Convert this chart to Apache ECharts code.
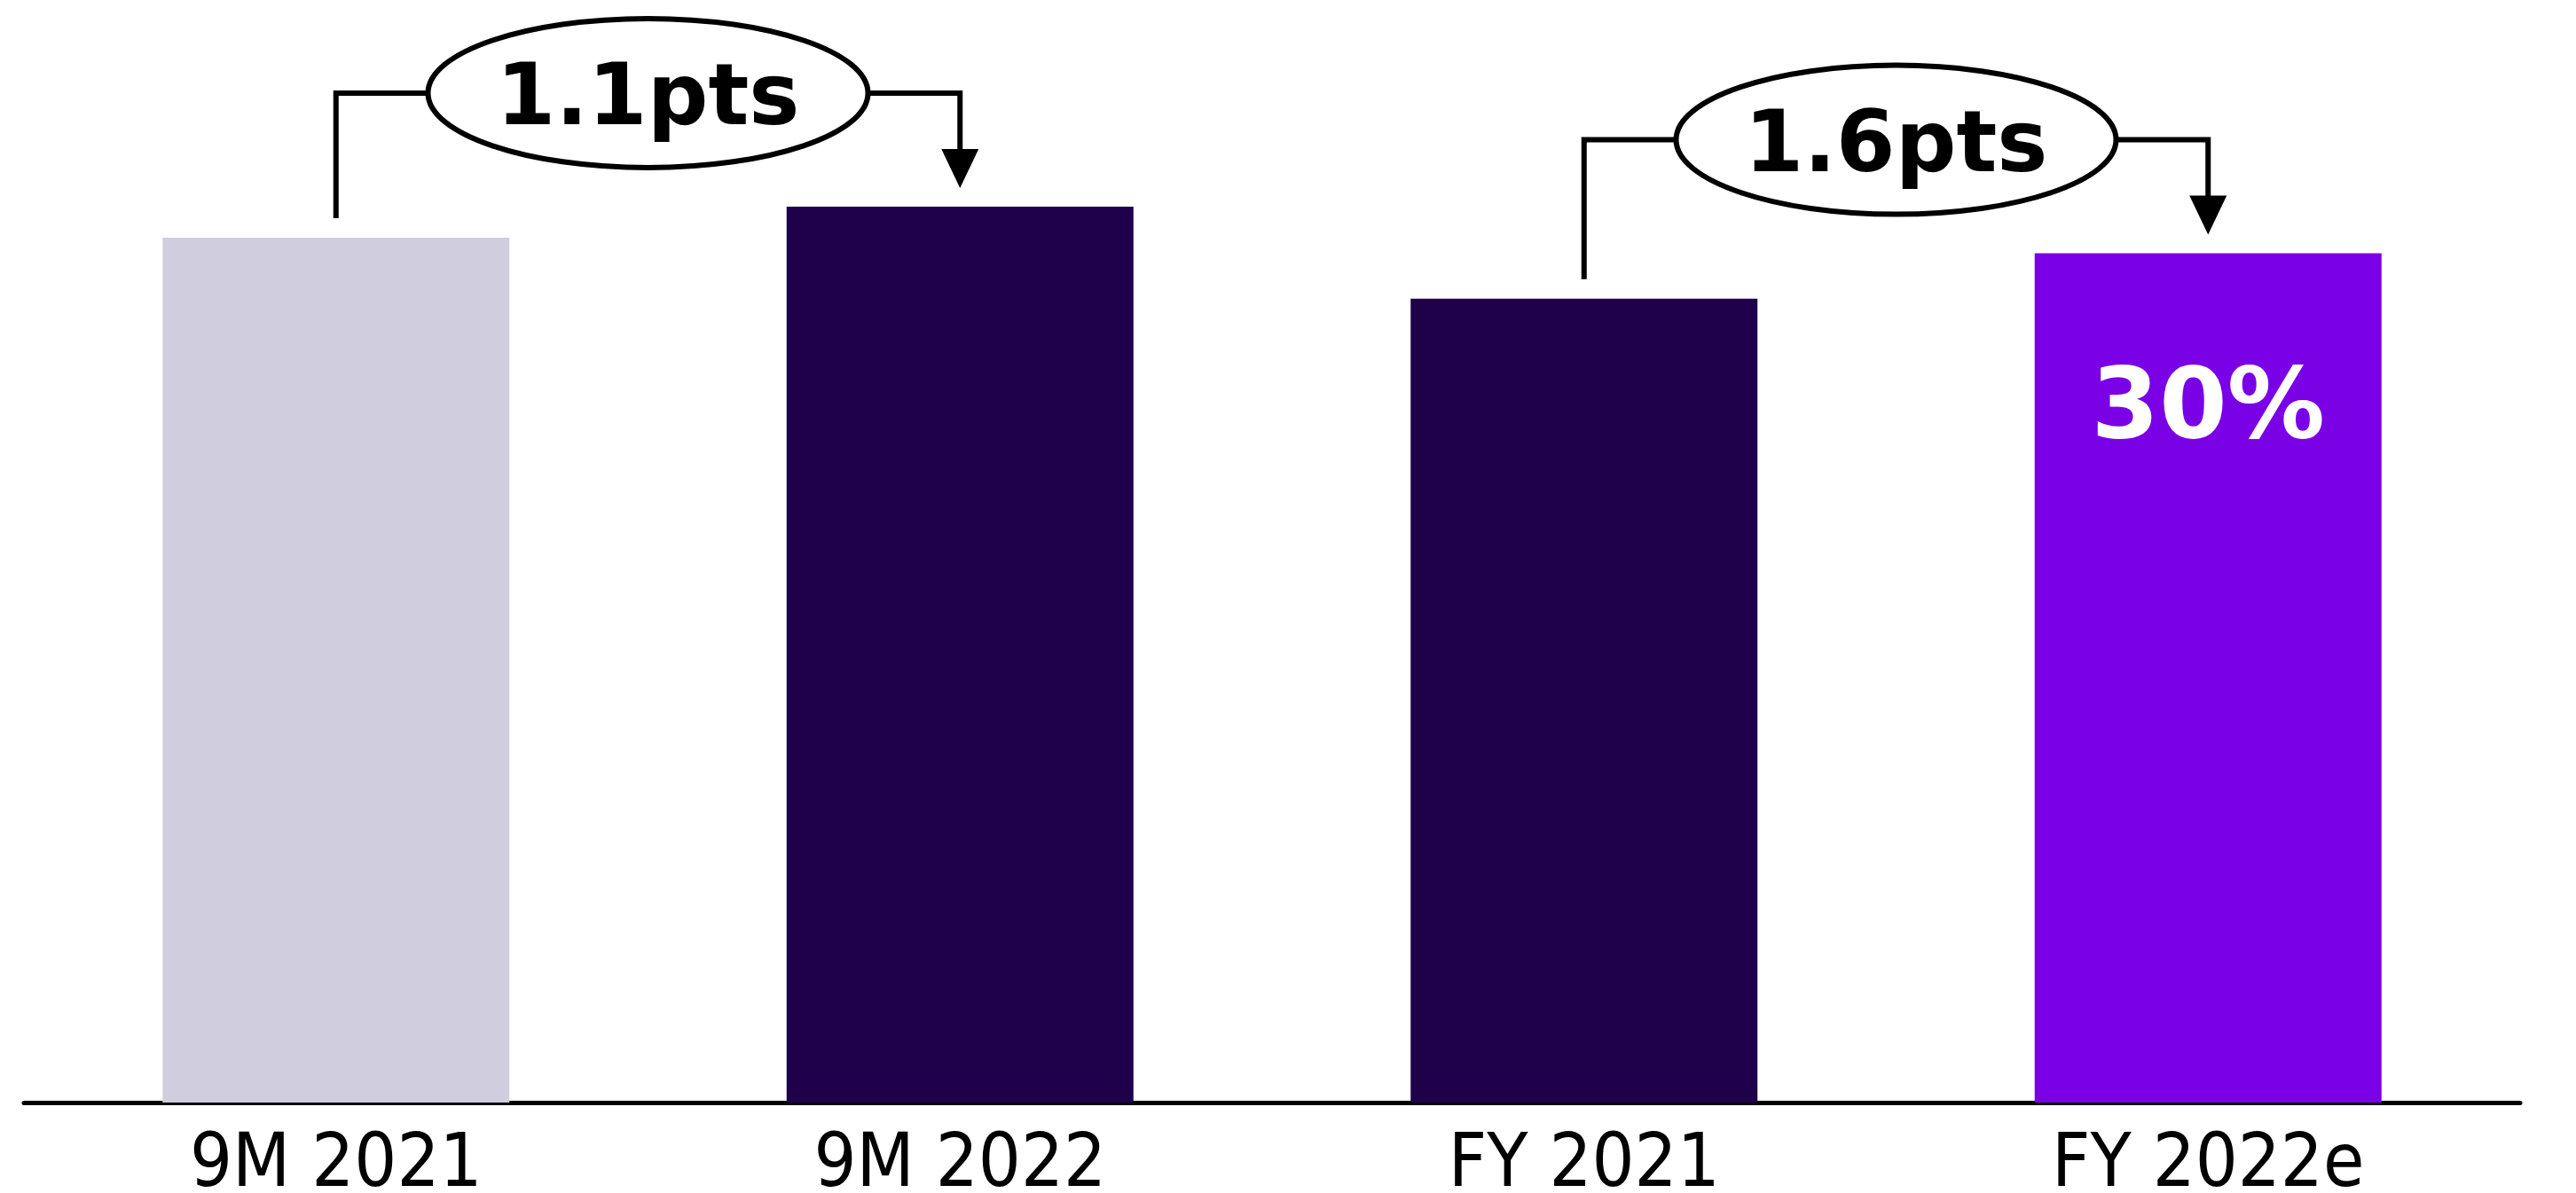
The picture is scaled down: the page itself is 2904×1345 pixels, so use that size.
<!DOCTYPE html>
<html>
<head>
<meta charset="utf-8">
<script src="https://cdn.jsdelivr.net/npm/echarts@6/dist/echarts.min.js"></script>
<style>
  html, body { margin: 0; padding: 0; background: #ffffff; overflow: hidden; }
  #chart { position: fixed; left: 0; top: 0; width: 2904px; height: 1345px; }
</style>
</head>
<body>
<div id="chart"></div>
<script>
// Margin by period (%)
const categories = ['9M 2021', '9M 2022', 'FY 2021', 'FY 2022e'];
const values = [30.55, 31.65, 28.4, 30.0];
const barColors = ['#D0CDDF', '#1F004A', '#1F004A', '#7A00E6'];
// Pairs of bars joined by a change bracket: [from, to]
const comparisons = [[0, 1], [2, 3]];
// Bar that carries its value inside
const labelledBar = 3;

const FONT = '"DejaVu Sans", sans-serif';
const AXIS_FONT = '"DejaVu Sans Condensed", "DejaVu Sans", sans-serif';

const chart = echarts.init(document.getElementById('chart'), null, { renderer: 'canvas' });

chart.setOption({
  animation: false,
  backgroundColor: '#ffffff',
  grid: { left: 27, right: 63, top: 126, bottom: 102, outerBoundsMode: 'none', containLabel: false },
  xAxis: {
    type: 'category',
    data: categories,
    axisLine: { show: true, lineStyle: { color: '#000000', width: 5 } },
    axisTick: { show: false },
    axisLabel: { color: '#000000', fontFamily: AXIS_FONT, fontSize: 84, margin: 30 }
  },
  yAxis: { type: 'value', min: 0, max: 35, show: false, splitLine: { show: false } },
  series: [{
    type: 'bar',
    barWidth: 391,
    data: values.map((v, i) => ({
      value: v,
      itemStyle: { color: barColors[i] },
      label: i === labelledBar ? {
        show: true,
        position: 'insideTop',
        distance: 124,
        formatter: '{c}%',
        color: '#ffffff',
        fontFamily: FONT,
        fontWeight: 'bold',
        fontSize: 110
      } : { show: false }
    }))
  }]
});

// Change brackets: elbow line from the earlier bar, oval badge with the
// difference in points, and an arrow down onto the later bar.
const RX = 248, RY = 84, LW = 6;
const elements = [];
comparisons.forEach(([a, b]) => {
  const xa = chart.convertToPixel({ xAxisIndex: 0 }, categories[a]);
  const xb = chart.convertToPixel({ xAxisIndex: 0 }, categories[b]);
  const ya = chart.convertToPixel({ yAxisIndex: 0 }, values[a]);
  const yb = chart.convertToPixel({ yAxisIndex: 0 }, values[b]);
  const by = Math.min(ya, yb) - 128;
  const cx = (xa + xb) / 2;
  const tipY = yb - 21;
  const headH = 44, headW = 42;
  const diff = (values[b] - values[a]).toFixed(1) + 'pts';

  elements.push({
    type: 'polyline',
    shape: { points: [[xa, ya - 22], [xa, by], [cx - RX, by]] },
    style: { stroke: '#000000', lineWidth: LW, fill: null },
    z: 10
  });
  elements.push({
    type: 'polyline',
    shape: { points: [[cx + RX, by], [xb, by], [xb, tipY - headH + 2]] },
    style: { stroke: '#000000', lineWidth: LW, fill: null },
    z: 10
  });
  elements.push({
    type: 'polygon',
    shape: { points: [[xb - headW / 2, tipY - headH], [xb + headW / 2, tipY - headH], [xb, tipY]] },
    style: { fill: '#000000' },
    z: 10
  });
  elements.push({
    type: 'ellipse',
    shape: { cx: cx, cy: by, rx: RX, ry: RY },
    style: { fill: '#ffffff', stroke: '#000000', lineWidth: LW },
    z: 11
  });
  elements.push({
    type: 'text',
    x: cx,
    y: by + 10,
    style: {
      text: diff,
      align: 'center',
      verticalAlign: 'middle',
      fill: '#000000',
      fontFamily: FONT,
      fontWeight: 'bold',
      fontSize: 96
    },
    z: 12
  });
});

chart.setOption({ graphic: { elements: elements } });
</script>
</body>
</html>
